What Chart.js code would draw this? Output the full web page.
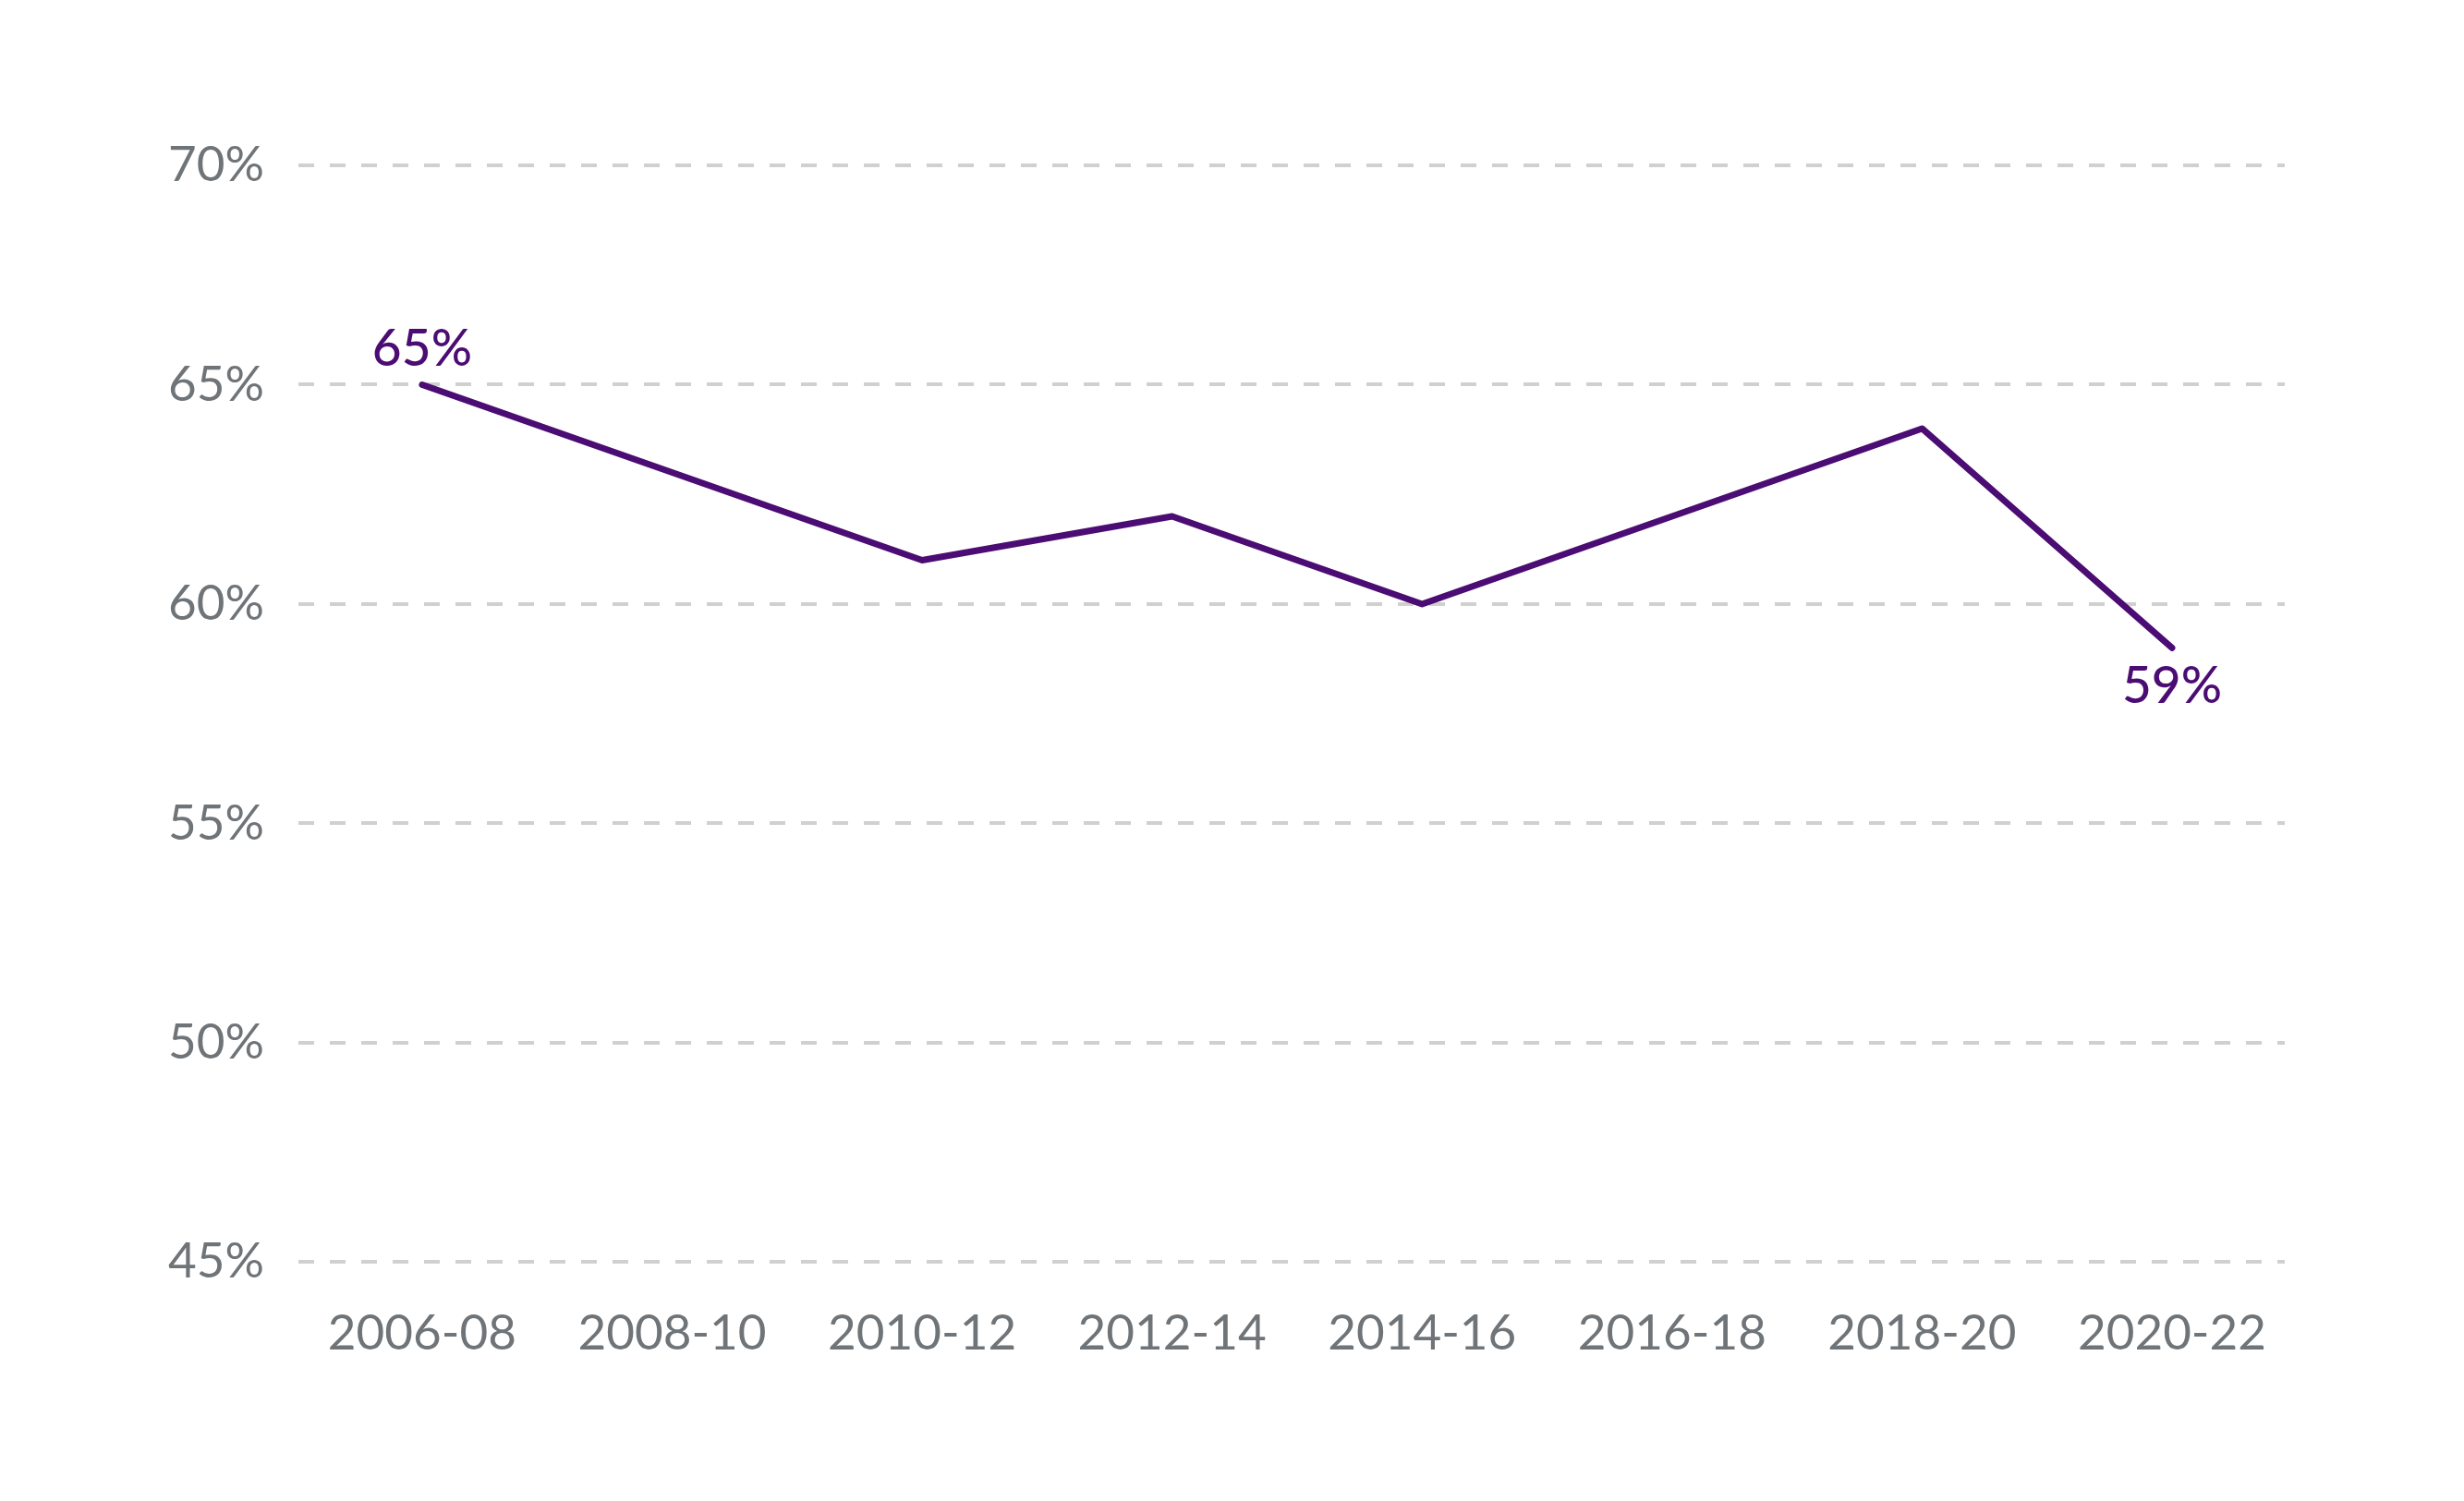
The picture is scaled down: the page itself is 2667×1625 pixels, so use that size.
<!DOCTYPE html>
<html lang="en">
<head>
    <meta charset="UTF-8">
    <title>Line chart 2006-08 to 2020-22</title>
    <script src="https://cdn.jsdelivr.net/npm/chart.js"></script>
    <style>
        html, body {
            margin: 0;
            padding: 0;
            background: #fff;
        }
        #chartContainer {
            width: 2667px;
            height: 1625px;
        }
    </style>
</head>
<body>
    <div id="chartContainer">
        <canvas id="lineChart"></canvas>
    </div>

    <script>
        // data
        const periods = ['2006-08', '2008-10', '2010-12', '2012-14', '2014-16', '2016-18', '2018-20', '2020-22'];
        const shares = [65, 63, 61, 62, 60, 62, 64, 59];
        const yTicks = [45, 50, 55, 60, 65, 70];

        const purple = '#4b0c73';
        const grey = '#6f7478';
        const fontFamily = "Lato, 'Open Sans', sans-serif";

        // labels on the first and last point only
        const endLabels = {
            id: 'endLabels',
            afterDatasetsDraw(chart) {
                const meta = chart.getDatasetMeta(0);
                const ctx = chart.ctx;
                ctx.save();
                ctx.fillStyle = purple;
                ctx.font = '500 55px ' + fontFamily;
                ctx.textAlign = 'center';
                ctx.textBaseline = 'middle';
                const first = meta.data[0];
                const last = meta.data[meta.data.length - 1];
                ctx.fillText(shares[0] + '%', first.x, first.y - 38);
                ctx.fillText(shares[shares.length - 1] + '%', last.x, last.y + 42);
                ctx.restore();
            }
        };

        const ctx = document.getElementById('lineChart').getContext('2d');
        new Chart(ctx, {
            type: 'line',
            data: {
                datasets: [{
                    // period index on x so the ends can sit unevenly inside the grid
                    data: shares.map((v, i) => ({ x: i, y: v })),
                    borderColor: purple,
                    borderWidth: 7,
                    borderCapStyle: 'round',
                    borderJoinStyle: 'round',
                    pointRadius: 0,
                    tension: 0,
                    fill: false
                }]
            },
            options: {
                responsive: true,
                maintainAspectRatio: false,
                animation: false,
                layout: {
                    padding: { top: 179, right: 194, bottom: 111, left: 0 }
                },
                plugins: {
                    legend: { display: false },
                    title: { display: false },
                    tooltip: { enabled: false }
                },
                scales: {
                    x: {
                        type: 'linear',
                        min: -0.495,
                        max: 7.451,
                        grid: { display: false },
                        border: { display: false },
                        ticks: {
                            stepSize: 1,
                            includeBounds: false,
                            autoSkip: false,
                            color: grey,
                            padding: 38,
                            maxRotation: 0,
                            font: { family: fontFamily, size: 53 },
                            callback: v => periods[v]
                        }
                    },
                    y: {
                        min: 45,
                        max: 70,
                        afterFit(scale) { scale.width = 323; },
                        afterBuildTicks(scale) {
                            scale.ticks = yTicks.map(v => ({ value: v }));
                        },
                        grid: {
                            color: '#d0d0d0',
                            lineWidth: 4,
                            drawTicks: false
                        },
                        border: { display: false, dash: [17, 17] },
                        ticks: {
                            color: grey,
                            padding: 37,
                            font: { family: fontFamily, size: 53 },
                            callback: v => v + '%'
                        }
                    }
                }
            },
            plugins: [endLabels]
        });
    </script>
</body>
</html>
